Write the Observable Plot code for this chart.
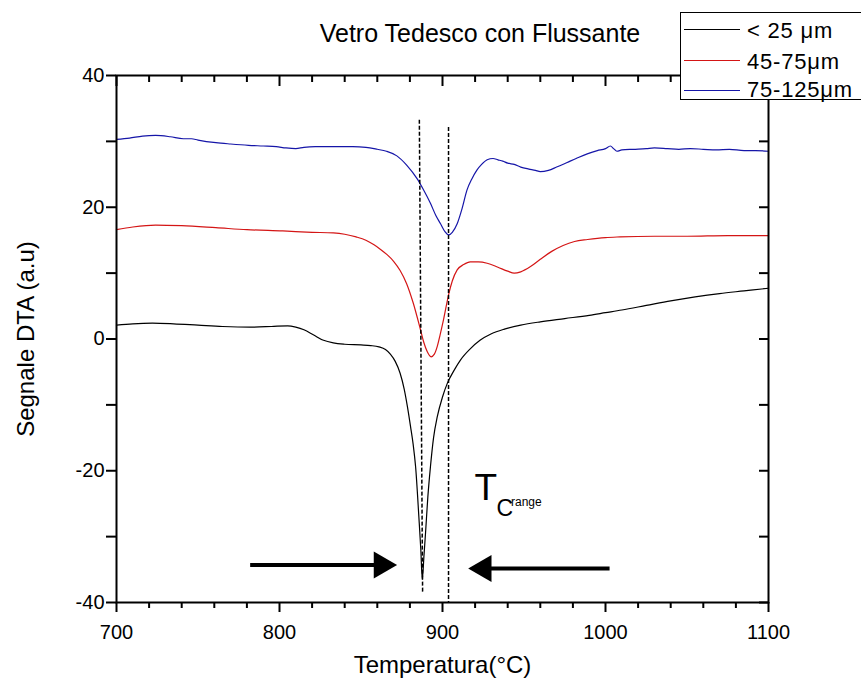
<!DOCTYPE html>
<html>
<head>
<meta charset="utf-8">
<script src="https://cdn.jsdelivr.net/npm/d3@7"></script>
<script src="https://cdn.jsdelivr.net/npm/@observablehq/plot@0.6"></script>
<style>
  body { margin: 0; background: #fff; font-family: "Liberation Sans", Arial, sans-serif; }
  #wrap { position: relative; width: 861px; height: 682px; overflow: hidden; background: #fff; }
  #title { position: absolute; left: 180px; width: 600px; top: 21px; text-align: center; font-size: 25px; line-height: 1; color: #000; }
  #legend { position: absolute; left: 680px; top: 12px; width: 200px; height: 86px; border: 1px solid #000; background: #fff; }
  .lg-line { position: absolute; left: 3px; width: 56px; height: 0; border-top: 1px solid; }
  .lg-text { position: absolute; left: 66px; font-size: 22px; letter-spacing: 0.8px; line-height: 1; white-space: nowrap; color: #000; }
</style>
</head>
<body>
<div id="wrap">
  <div id="chart"></div>
  <div id="title">Vetro Tedesco con Flussante</div>
  <div id="legend"></div>
</div>
<script>
// ---- Series names & colours ----
const seriesNames = ["< 25 μm", "45-75μm", "75-125μm"];
const seriesColors = ["#000000", "#d41515", "#1515a8"];

// ---- < 25 µm (black) ----
const blackT = [700,710,722,735,750,765,782,795,805,810,815,821,827,833,840,850,856,861,865,868,871,874,876.5,878.5,880.4,882,883.5,885.5,886.7,887.6,888.6,889.6,891,892.6,894.5,896.8,900,903,907,911,917,923,930,938,948,960,975,990,1000,1010,1025,1040,1055,1070,1085,1100];
const blackV = [2.1,2.3,2.4,2.3,2.1,1.9,1.8,1.9,2.0,1.8,1.4,0.6,-0.2,-0.6,-0.8,-0.9,-1.0,-1.2,-1.6,-2.3,-3.4,-5.2,-7.6,-10.3,-13.3,-16,-19.4,-27,-32,-36.5,-33,-29.4,-24,-19.4,-15,-11.8,-8.8,-6.7,-4.8,-3.2,-1.5,-0.2,0.8,1.5,2.1,2.6,3.1,3.6,4.0,4.4,5.1,5.8,6.4,6.9,7.3,7.7];

// ---- 45-75 µm (red) ----
const redT = [700,710,724,740,761,780,802,820,833,840,847,853,858,862,866,870,874,878,882,886.5,888.5,890.6,893,895,896.7,898.5,900.6,903.9,906,909,913,917,922,927.4,934,940,944,948,954,960,967,974,981,989,1000,1009,1030,1050,1075,1100];
const redV = [16.6,17.0,17.3,17.2,16.9,16.6,16.4,16.2,16.1,15.9,15.5,15.0,14.3,13.6,12.8,11.8,10.4,8.4,5.5,1.4,-0.5,-1.9,-2.7,-2.3,-1.2,0.6,2.9,6.9,8.8,10.5,11.3,11.7,11.7,11.5,10.9,10.3,10.0,10.2,11.0,12.1,13.3,14.2,14.8,15.1,15.4,15.5,15.6,15.6,15.7,15.7];

// ---- 75-125 µm (blue) ----
const blueT = [700,708,716,724,733,741,746,750,761,770,781,790,798,804,810,815,822,835,845,853,860,865.6,872,878,884.5,888,892.6,896,898.8,901.5,903.9,906,909,912,915,918,921,924,927.4,931,934,937,940,944,948,953,957,960,965,970,976.5,982,988.8,995,1000,1003,1005,1007,1010,1017,1025,1030,1038,1045,1052,1060,1068,1076,1085,1092,1100];
const blueV = [30.3,30.5,30.8,30.9,30.7,30.4,30.4,30.2,29.8,29.6,29.4,29.3,29.2,29.0,28.9,29.1,29.2,29.2,29.2,29.1,28.8,28.5,27.8,26.4,24.3,22.8,20.6,18.7,17.5,16.3,15.8,16.2,17.5,19.8,22.6,24.3,25.6,26.5,27.2,27.4,27.2,27.0,26.7,26.5,26.1,25.8,25.6,25.4,25.6,26.1,26.8,27.4,28.1,28.6,28.9,29.3,28.9,28.5,28.7,28.8,28.9,29.0,28.9,28.8,28.9,28.8,28.7,28.8,28.6,28.6,28.5];

// ---- Axis ticks ----
const xMajor = [700, 800, 900, 1000, 1100];
const xMinor = [720,740,760,780,820,840,860,880,920,940,960,980,1020,1040,1060,1080];
const yMajor = [-40, -20, 0, 20, 40];
const yMinor = [-30, -10, 10, 30];

// ---- Annotations: T_C range dashed markers ----
const dashTop = [885.8, 903.7];
const dashBottom = [887.8, 903.7];
const dashTopV = [33.3, 32.2];
const dashBottomV = [-38.5, -40];

// ---- Arrows (tail, head centre, level, direction) ----
const arrowTail = [782, 1002.5];
const arrowHead = [862.6, 925.3];
const arrowV = [-34.3, -34.85];
const arrowRot = [90, -90];

// ---- Label "T_C^range" parts ----
const tcText = ["T", "C", "range"];
const tcT = [919.6, 933.1, 942];
const tcV = [-22.6, -25.7, -24.7];
const tcSize = [37, 23, 12];

// ---- Build tables ----
const rows = [];
[[blackT, blackV], [redT, redV], [blueT, blueV]].forEach(([T, V], i) => {
  T.forEach((t, j) => rows.push({series: seriesNames[i], T: t, V: V[j]}));
});
const dashRows = dashTop.map((t, i) => ({x1: t, x2: dashBottom[i], y1: dashTopV[i], y2: dashBottomV[i]}));
const arrowRows = arrowTail.map((t, i) => ({tail: t, head: arrowHead[i], v: arrowV[i], rot: arrowRot[i]}));
const tcRows = tcText.map((s, i) => ({s, t: tcT[i], v: tcV[i], fs: tcSize[i]}));
const fmt = d => String(d);
const blank = () => "";

const chart = Plot.plot({
  width: 861,
  height: 682,
  marginTop: 75,
  marginRight: 93,
  marginBottom: 80,
  marginLeft: 116,
  style: {fontFamily: "'Liberation Sans', Arial, sans-serif", background: "#fff", color: "#000", overflow: "visible"},
  x: {domain: [700, 1100]},
  y: {domain: [-40, 40]},
  color: {domain: seriesNames, range: seriesColors},
  marks: [
    Plot.line(rows, {x: "T", y: "V", z: "series", stroke: "series", strokeWidth: 1.2, curve: "monotone-x"}),
    Plot.link(dashRows, {x1: "x1", x2: "x2", y1: "y1", y2: "y2", stroke: "black", strokeWidth: 1.5, strokeDasharray: "4,2"}),
    Plot.link(arrowRows, {x1: "tail", x2: "head", y1: "v", y2: "v", stroke: "black", strokeWidth: 4}),
    Plot.dot(arrowRows, {x: "head", y: "v", symbol: "triangle", r: 10, fill: "black", stroke: "none", rotate: "rot"}),
    Plot.text(tcRows, {x: "t", y: "v", text: "s", fontSize: "fs", textAnchor: "start", fill: "black"}),
    Plot.frame({stroke: "black", strokeWidth: 2}),
    Plot.axisX(xMajor, {anchor: "bottom", tickSize: 10, tickPadding: 12, strokeWidth: 2, fontSize: 20, tickFormat: fmt, label: null}),
    Plot.axisX(xMinor, {anchor: "bottom", tickSize: 6, strokeWidth: 2, tickFormat: blank, label: null}),
    Plot.axisX(xMajor, {anchor: "top", tickSize: 10, dy: 10, strokeWidth: 2, tickFormat: blank, label: null}),
    Plot.axisX(xMinor, {anchor: "top", tickSize: 6, dy: 6, strokeWidth: 2, tickFormat: blank, label: null}),
    Plot.axisY(yMajor, {anchor: "left", tickSize: 10, tickPadding: 2, strokeWidth: 2, fontSize: 20, tickFormat: fmt, label: null}),
    Plot.axisY(yMinor, {anchor: "left", tickSize: 10, strokeWidth: 2, tickFormat: blank, label: null}),
    Plot.axisY(yMajor.concat(yMinor), {anchor: "right", tickSize: 10, dx: -10, strokeWidth: 2, tickFormat: blank, label: null}),
    Plot.text(["Temperatura(°C)"], {frameAnchor: "bottom", lineAnchor: "middle", textAnchor: "middle", dy: 63, fontSize: 24, fill: "black"}),
    Plot.text(["Segnale DTA (a.u)"], {frameAnchor: "left", lineAnchor: "middle", textAnchor: "middle", dx: -90, rotate: -90, fontSize: 24, fill: "black"})
  ]
});
document.getElementById("chart").appendChild(chart);

// ---- Legend (HTML overlay) ----
const legend = document.getElementById("legend");
const lineTops = [16, 47, 77];
const textTops = [7, 38, 66];
seriesNames.forEach((name, i) => {
  const ln = document.createElement("div");
  ln.className = "lg-line";
  ln.style.top = lineTops[i] + "px";
  ln.style.borderTopColor = seriesColors[i];
  legend.appendChild(ln);
  const tx = document.createElement("div");
  tx.className = "lg-text";
  tx.style.top = textTops[i] + "px";
  tx.textContent = name;
  legend.appendChild(tx);
});
</script>
</body>
</html>
